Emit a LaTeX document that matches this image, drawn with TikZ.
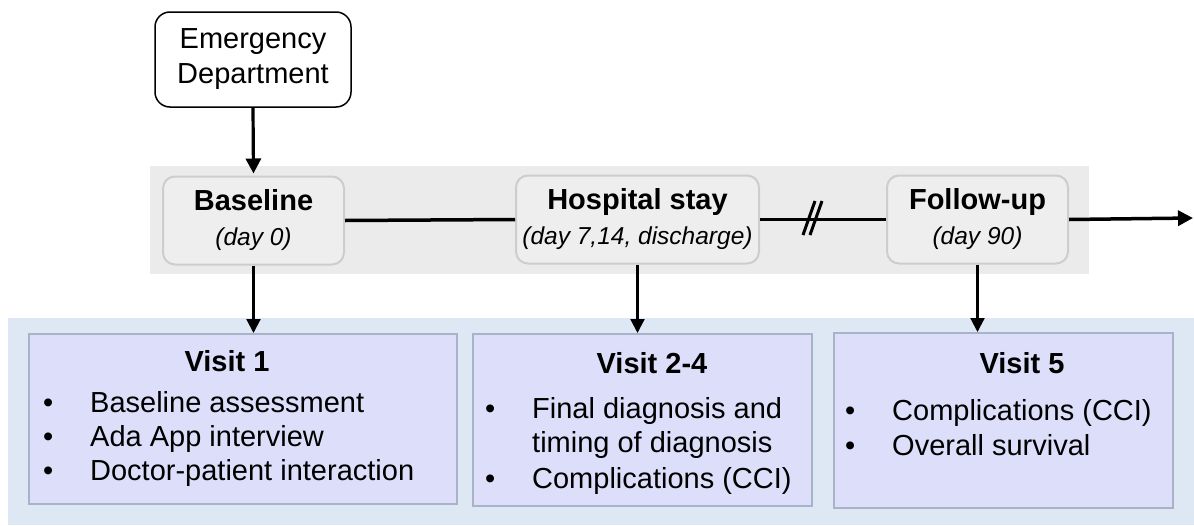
\documentclass[tikz,border=0pt]{standalone}
\usepackage{fontspec}
\setmainfont{Liberation Sans}
\usetikzlibrary{arrows.meta, positioning}

\definecolor{bandgray}{HTML}{EBEBEB}
\definecolor{phasefill}{HTML}{EEEEEE}
\definecolor{phaseedge}{HTML}{CDCDCD}
\definecolor{bandblue}{HTML}{DEE8F4}
\definecolor{visitfill}{HTML}{DDDFFA}
\definecolor{visitedge}{HTML}{A8B3C8}

\newcommand{\bigtext}{\fontsize{29}{35}\selectfont}
\newcommand{\listtext}{\fontsize{29}{34}\selectfont}
\newcommand{\daytext}{\fontsize{24.5}{30}\selectfont\itshape}
\newcommand{\vb}{\makebox[47pt][l]{\textbullet}}

\begin{document}
\begin{tikzpicture}[x=1pt, y=-1pt,
  edbox/.style={draw, line width=1.5pt, fill=white, rounded corners=15pt,
    minimum width=196pt, minimum height=95pt, inner sep=0pt, align=center, font=\bigtext},
  phase/.style={draw=phaseedge, line width=2pt, fill=phasefill, rounded corners=12pt,
    minimum height=88pt, inner sep=0pt, align=center, font=\bigtext},
  visitbox/.style={draw=visitedge, line width=1.5pt, fill=visitfill, anchor=north west,
    inner sep=0pt},
  vtitle/.style={anchor=base, inner sep=0pt, font=\bigtext\bfseries},
  vlist/.style={anchor=base west, inner sep=0pt, font=\listtext},
  tline/.style={line width=3.5pt},
  edarrow/.style={line width=3.2pt, -{Triangle[length=15pt,width=15pt]}},
  downarrow/.style={line width=2.2pt, -{Triangle[length=14pt,width=14pt]}}]
\useasboundingbox (0,0) rectangle (1194,525);

% backgrounds
\fill[bandgray] (150,166) rectangle (1089,274);
\fill[bandblue] (8,318) rectangle (1194,525);

% entry
\node[edbox] (ed) at (253,59.5) {Emergency\\Department};

% time line
\node[phase, minimum width=181pt] (base) at (253.5,220.5) {\textbf{Baseline}\\{\daytext (day 0)}};
\node[phase, minimum width=243pt] (hosp) at (637.5,219.5) {\textbf{Hospital stay}\\{\daytext (day 7,14, discharge)}};
\node[phase, minimum width=181pt] (fup) at (977.5,219.5) {\textbf{Follow-up}\\{\daytext (day 90)}};
\coordinate (brk) at (812,218);
\coordinate (tend) at (1193,218);

\draw[edarrow, shorten >=2pt] (ed.south) -- (base.north);
\draw[tline] (base.east) -- (hosp.west);
\draw[tline] (hosp.east) -- (fup.west);
\draw[tline, -{Triangle[length=15pt,width=15pt]}] (fup.east) -- (tend);
\draw[line width=3pt] ([shift={(3,-17)}]brk) -- ([shift={(-9,17)}]brk);
\draw[line width=3pt] ([shift={(10,-17)}]brk) -- ([shift={(-2,17)}]brk);

% visits
\node[visitbox, minimum width=428pt, minimum height=170pt] (v1) at (28,333) {};
\node[visitbox, minimum width=339pt, minimum height=172pt] (v24) at (472,333) {};
\node[visitbox, minimum width=339pt, minimum height=175pt] (v5) at (833,332) {};

\node[vtitle] (v1t) at (227,371) {Visit 1};
\node[vtitle] (v24t) at (652,373) {Visit 2-4};
\node[vtitle] (v5t) at (1022,373) {Visit 5};

\node[vlist] (v1l) at (43,412) {\begin{tabular}[t]{@{}l@{}l@{}}
  \vb & Baseline assessment\\
  \vb & Ada App interview\\
  \vb & Doctor-patient interaction
\end{tabular}};
\node[vlist] (v24l) at (485,418) {\begin{tabular}[t]{@{}l@{}l@{}}
  \vb & Final diagnosis and\\
      & timing of diagnosis\\[2pt]
  \vb & Complications (CCI)
\end{tabular}};
\node[vlist] (v5l) at (845,420) {\begin{tabular}[t]{@{}l@{}l@{}}
  \vb & Complications (CCI)\\[1pt]
  \vb & Overall survival
\end{tabular}};

\draw[downarrow] (base.south) -- (base.south |- v1.north);
\draw[downarrow] (hosp.south) -- (hosp.south |- v24.north);
\draw[downarrow] (fup.south) -- (fup.south |- v5.north);
\end{tikzpicture}
\end{document}
